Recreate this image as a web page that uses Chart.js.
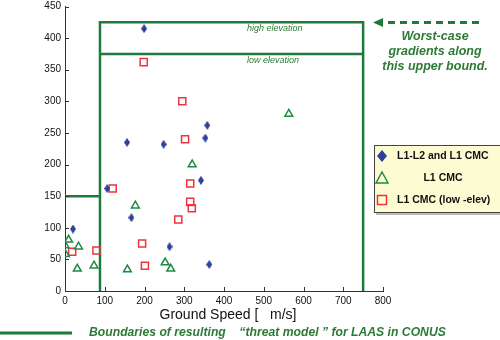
<!DOCTYPE html>
<html>
<head>
<meta charset="utf-8">
<script src="https://cdn.jsdelivr.net/npm/chart.js@4"></script>
<style>
  html, body { margin: 0; padding: 0; background: #fff; }
  #wrap { width: 500px; height: 340px; position: relative; }
</style>
</head>
<body>
<div id="wrap"><canvas id="chart"></canvas></div>
<script>
// scatter of ionospheric gradient vs ground speed, with threat model bounds
const xTicks = [0, 100, 200, 300, 400, 500, 600, 700, 800];
const yTicks = [0, 50, 100, 150, 200, 250, 300, 350, 400, 450];

const speedL1L2 = [199, 156, 248, 358, 353, 342, 106, 167, 20, 263, 363];
const gradL1L2  = [415, 235, 232, 262, 242, 175, 162, 116, 98, 70, 42];

const speedL1 = [9, 0, 34, 1, 31, 73, 157, 177, 252, 266, 320, 563];
const gradL1  = [81, 72, 70, 58, 35, 40, 34, 135, 45, 35, 200, 280];

const speedLow = [198, 295, 302, 120, 315, 315, 319, 285, 194, 201, 79, 18];
const gradLow  = [362, 300, 240, 162, 170, 141, 131, 113, 75, 40, 64, 62];

// threat model boundaries
const boundSpeedLow = 88;
const boundSpeedHigh = 750;
const boundGradHigh = 425;
const boundGradLow = 375;
const boundGradSlow = 150;

const labels = ['L1-L2 and L1 CMC', 'L1 CMC', 'L1 CMC (low -elev)'];

const BLUE = '#2f3f9c';
const GREEN = '#1f8a45';
const RED = '#ec3440';
const LINE_GREEN = '#1d7a3b';
const TEXT_GREEN = '#2c7a36';

const pts = (xs, ys) => xs.map((x, i) => ({ x: x, y: ys[i] }));

function diamond(w, h, color) {
  const c = document.createElement('canvas');
  c.width = w; c.height = h;
  const g = c.getContext('2d');
  g.fillStyle = color;
  g.beginPath();
  g.moveTo(w / 2, 0); g.lineTo(w, h / 2); g.lineTo(w / 2, h); g.lineTo(0, h / 2);
  g.closePath(); g.fill();
  return c;
}
const diamondImg = diamond(6, 9, BLUE);

const boundLine = (data) => ({
  type: 'line', data: data, borderColor: LINE_GREEN, borderWidth: 2.5,
  pointRadius: 0, fill: false, tension: 0, order: 10
});

const extras = {
  id: 'extras',
  afterDraw(chart) {
    const ctx = chart.ctx;
    const xs = chart.scales.x, ys = chart.scales.y;
    const left = chart.chartArea.left, bottom = chart.chartArea.bottom;
    ctx.save();

    // inward ticks
    ctx.strokeStyle = '#333'; ctx.lineWidth = 1;
    xTicks.forEach(v => {
      const px = Math.round(xs.getPixelForValue(v)) + 0.5;
      ctx.beginPath(); ctx.moveTo(px, bottom); ctx.lineTo(px, bottom - 4); ctx.stroke();
    });
    yTicks.forEach(v => {
      const py = Math.round(ys.getPixelForValue(v)) + 0.5;
      ctx.beginPath(); ctx.moveTo(left, py); ctx.lineTo(left + 4, py); ctx.stroke();
    });

    // elevation labels
    ctx.fillStyle = TEXT_GREEN;
    ctx.font = 'italic 9px "Liberation Sans", Arial, sans-serif';
    ctx.textAlign = 'left'; ctx.textBaseline = 'middle';
    ctx.fillText('high elevation', 247, 28);
    ctx.fillText('low elevation', 247, 60);

    // worst case arrow
    ctx.strokeStyle = LINE_GREEN; ctx.lineWidth = 3;
    ctx.setLineDash([7, 5]);
    ctx.beginPath(); ctx.moveTo(479, 22.5); ctx.lineTo(381, 22.5); ctx.stroke();
    ctx.setLineDash([]);
    ctx.fillStyle = LINE_GREEN;
    ctx.beginPath(); ctx.moveTo(373, 22.5); ctx.lineTo(383, 18); ctx.lineTo(383, 27); ctx.closePath(); ctx.fill();

    ctx.fillStyle = TEXT_GREEN;
    ctx.font = 'bold italic 12.5px "Liberation Sans", Arial, sans-serif';
    ctx.textAlign = 'center';
    ctx.fillText('Worst-case', 435, 37);
    ctx.fillText('gradients along', 435, 52);
    ctx.fillText('this upper bound.', 435, 67);

    // legend
    ctx.fillStyle = '#bbbbbb';
    ctx.fillRect(376, 147, 130, 68);
    ctx.fillStyle = '#fdfbd2';
    ctx.fillRect(374, 145, 130, 68);
    ctx.strokeStyle = '#444'; ctx.lineWidth = 1;
    ctx.strokeRect(374.5, 145.5, 130, 67);

    ctx.fillStyle = BLUE;
    ctx.beginPath();
    ctx.moveTo(382, 150); ctx.lineTo(387, 156); ctx.lineTo(382, 162); ctx.lineTo(377, 156);
    ctx.closePath(); ctx.fill();

    ctx.strokeStyle = GREEN; ctx.lineWidth = 1.5;
    ctx.beginPath();
    ctx.moveTo(382, 172); ctx.lineTo(388, 183); ctx.lineTo(376, 183); ctx.closePath(); ctx.stroke();

    ctx.strokeStyle = RED;
    ctx.strokeRect(377.5, 195.5, 9, 9);

    ctx.fillStyle = '#111';
    ctx.font = 'bold 10.5px "Liberation Sans", Arial, sans-serif';
    ctx.textAlign = 'left';
    ctx.fillText(labels[0], 397, 156);
    ctx.textAlign = 'center';
    ctx.fillText(labels[1], 443, 178);
    ctx.textAlign = 'left';
    ctx.fillText(labels[2], 397, 200);

    // axis title
    ctx.fillStyle = '#111';
    ctx.font = '14px "Liberation Sans", Arial, sans-serif';
    ctx.textAlign = 'center';
    ctx.fillText('Ground Speed [   m/s]', 228, 315);

    // bottom caption
    ctx.strokeStyle = LINE_GREEN; ctx.lineWidth = 3;
    ctx.beginPath(); ctx.moveTo(0, 333); ctx.lineTo(72, 333); ctx.stroke();
    ctx.fillStyle = TEXT_GREEN;
    ctx.font = 'bold italic 12.2px "Liberation Sans", Arial, sans-serif';
    ctx.textAlign = 'left';
    ctx.fillText('Boundaries of resulting    \u201Cthreat model \u201D for LAAS in CONUS', 89, 333);

    ctx.restore();
  }
};

new Chart(document.getElementById('chart'), {
  type: 'scatter',
  data: {
    datasets: [
      { label: labels[0], data: pts(speedL1L2, gradL1L2), pointStyle: diamondImg,
        backgroundColor: BLUE, borderColor: BLUE, order: 1 },
      { label: labels[1], data: pts(speedL1, gradL1), pointStyle: 'triangle', pointRadius: 4.5,
        backgroundColor: 'rgba(0,0,0,0)', borderColor: GREEN, borderWidth: 1.5, order: 2 },
      { label: labels[2], data: pts(speedLow, gradLow), pointStyle: 'rect', pointRadius: 5,
        backgroundColor: 'rgba(0,0,0,0)', borderColor: RED, borderWidth: 1.5, order: 3 },
      boundLine([{ x: 0, y: boundGradSlow }, { x: boundSpeedLow, y: boundGradSlow }]),
      boundLine([{ x: boundSpeedLow, y: 0 }, { x: boundSpeedLow, y: boundGradHigh },
                 { x: boundSpeedHigh, y: boundGradHigh }, { x: boundSpeedHigh, y: 0 }]),
      boundLine([{ x: boundSpeedLow, y: boundGradLow }, { x: boundSpeedHigh, y: boundGradLow }])
    ]
  },
  options: {
    responsive: true,
    maintainAspectRatio: false,
    animation: false,
    layout: { padding: { top: 4, right: 117, left: 0, bottom: 0 } },
    plugins: { legend: { display: false }, tooltip: { enabled: false } },
    scales: {
      x: {
        type: 'linear', min: 0, max: 800,
        afterFit: s => { s.height = 49; s.paddingLeft = 0; s.paddingRight = 0; },
        afterBuildTicks: s => { s.ticks = xTicks.map(v => ({ value: v })); },
        grid: { display: true, drawOnChartArea: false, drawTicks: false },
        border: { display: true, color: '#333', width: 1 },
        ticks: { padding: 4, color: '#111', maxRotation: 0,
                 font: { family: '"Liberation Sans", Arial, sans-serif', size: 10 } }
      },
      y: {
        type: 'linear', min: 0, max: 450,
        afterFit: s => { s.width = 65; s.paddingTop = 0; s.paddingBottom = 0; },
        afterBuildTicks: s => { s.ticks = yTicks.map(v => ({ value: v })); },
        grid: { display: true, drawOnChartArea: false, drawTicks: false },
        border: { display: true, color: '#333', width: 1 },
        ticks: { padding: 4, color: '#111',
                 font: { family: '"Liberation Sans", Arial, sans-serif', size: 10 } }
      }
    }
  },
  plugins: [extras]
});
</script>
</body>
</html>
